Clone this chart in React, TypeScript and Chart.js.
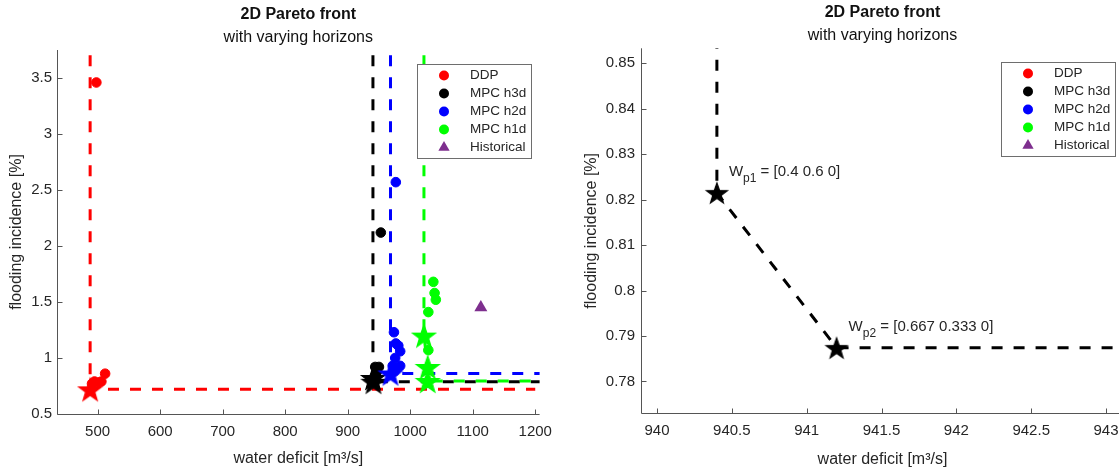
import React, { useEffect, useRef } from 'react';
import { Chart, registerables } from 'chart.js';

Chart.register(...registerables);

const FONT = "'Liberation Sans', Arial, Helvetica, sans-serif";
const TEXT = '#262626';
const AXIS = '#555555';

// ---------- data ----------
const seriesLabels = ['DDP', 'MPC h3d', 'MPC h2d', 'MPC h1d', 'Historical'];
const seriesColors = ['#ff0000', '#000000', '#0000ff', '#00ff00', '#7e2f8e'];

// solutions (dots)
const ddpX = [498, 512, 506, 501, 495, 491];
const ddpY = [3.46, 0.86, 0.79, 0.78, 0.79, 0.77];
const h3dX = [953, 944, 950, 947, 945];
const h3dY = [2.12, 0.92, 0.92, 0.88, 0.85];
const h2dX = [977, 974, 977, 981, 984, 976, 984, 972, 975];
const h2dY = [2.57, 1.23, 1.13, 1.11, 1.06, 1.0, 0.93, 0.93, 0.88];
const h1dX = [1037, 1039, 1041, 1029, 1029];
const h1dY = [1.68, 1.58, 1.52, 1.41, 1.07];
const histX = [1113];
const histY = [1.45];

// pareto-optimal (stars)
const ddpStarX = [488];
const ddpStarY = [0.72];
const h3dStarX = [940.4, 941.2];
const h3dStarY = [0.8215, 0.7874];
const h2dStarX = [968.5];
const h2dStarY = [0.862];
const h1dStarX = [1022, 1028, 1028];
const h1dStarY = [1.2, 0.92, 0.795];

// pareto front lines
const ddpFrontX = [488, 488, 1200];
const ddpFrontY = [3.9, 0.72, 0.72];
const h3dFrontX = [940.4, 940.4, 941.2, 1215];
const h3dFrontY = [3.9, 0.8215, 0.7874, 0.7874];
const h2dFrontX = [968.5, 968.5, 1215];
const h2dFrontY = [3.9, 0.862, 0.862];
const h1dFrontX = [1022, 1022, 1028, 1028, 1195];
const h1dFrontY = [3.9, 1.2, 0.92, 0.795, 0.795];

// weights annotations (for the h3d stars)
const weightSubs = ['p1', 'p2'];
const weightLabels = ['[0.4 0.6 0]', '[0.667 0.333 0]'];

// ticks
const xTicksWide = [500, 600, 700, 800, 900, 1000, 1100, 1200];
const yTicksWide = [0.5, 1, 1.5, 2, 2.5, 3, 3.5];
const xTicksZoom = [940, 940.5, 941, 941.5, 942, 942.5, 943];
const yTicksZoom = [0.78, 0.79, 0.8, 0.81, 0.82, 0.83, 0.84, 0.85];

// ---------- helpers ----------
const pts = (xs: number[], ys: number[]) => xs.map((x, i) => ({ x, y: ys[i] }));
const fmt = (v: number | string) => String(parseFloat(Number(v).toFixed(3)));

function makeStar(color: string, R: number): HTMLCanvasElement {
  const c = document.createElement('canvas');
  const size = Math.ceil(2 * R + 4);
  c.width = size;
  c.height = size;
  const ctx = c.getContext('2d')!;
  const cx = size / 2;
  const cy = size / 2 + R * 0.1;
  ctx.beginPath();
  for (let i = 0; i < 10; i++) {
    const r = i % 2 === 0 ? R : R * 0.4;
    const a = -Math.PI / 2 + (i * Math.PI) / 5;
    const x = cx + r * Math.cos(a);
    const y = cy + r * Math.sin(a);
    if (i === 0) ctx.moveTo(x, y);
    else ctx.lineTo(x, y);
  }
  ctx.closePath();
  ctx.fillStyle = color;
  ctx.fill();
  ctx.strokeStyle = color;
  ctx.lineWidth = 1.2;
  ctx.lineJoin = 'miter';
  ctx.stroke();
  return c;
}

function buildDatasets(starR: number) {
  const starSets = [pts(ddpStarX, ddpStarY), pts(h3dStarX, h3dStarY), pts(h2dStarX, h2dStarY), pts(h1dStarX, h1dStarY)];
  const dotSets = [pts(ddpX, ddpY), pts(h3dX, h3dY), pts(h2dX, h2dY), pts(h1dX, h1dY)];
  const frontSets = [pts(ddpFrontX, ddpFrontY), pts(h3dFrontX, h3dFrontY), pts(h2dFrontX, h2dFrontY), pts(h1dFrontX, h1dFrontY)];
  const ds: any[] = [];
  // stars on top (first dataset is drawn last)
  for (let i = 3; i >= 0; i--) {
    ds.push({
      label: seriesLabels[i] + ' optimum',
      data: starSets[i],
      showLine: false,
      pointStyle: makeStar(seriesColors[i], starR),
      pointRadius: starR,
      pointHoverRadius: starR,
    });
  }
  ds.push({
    label: seriesLabels[4],
    data: pts(histX, histY),
    showLine: false,
    pointStyle: 'triangle',
    pointRadius: 7.5,
    backgroundColor: seriesColors[4],
    borderColor: seriesColors[4],
    borderWidth: 0,
  });
  for (let i = 3; i >= 0; i--) {
    ds.push({
      label: seriesLabels[i],
      data: dotSets[i],
      showLine: false,
      pointStyle: 'circle',
      pointRadius: 4.8,
      backgroundColor: seriesColors[i],
      borderColor: seriesColors[i],
      borderWidth: 1,
    });
  }
  for (let i = 3; i >= 0; i--) {
    ds.push({
      label: seriesLabels[i] + ' front',
      data: frontSets[i],
      showLine: true,
      pointRadius: 0,
      borderColor: seriesColors[i],
      borderWidth: 3,
      borderDash: [11, 11],
      borderCapStyle: 'butt',
      fill: false,
      tension: 0,
    });
  }
  return ds;
}

// ---------- plugins ----------
const axisPlugin = {
  id: 'matlabAxes',
  beforeDatasetsDraw(chart: any) {
    const { ctx, chartArea: a, scales } = chart;
    const x = scales.x;
    const y = scales.y;
    ctx.save();
    ctx.strokeStyle = AXIS;
    ctx.lineWidth = 1;
    ctx.beginPath();
    const L = Math.round(a.left) + 0.5;
    const B = Math.round(a.bottom) + 0.5;
    ctx.moveTo(L, a.top);
    ctx.lineTo(L, B);
    ctx.lineTo(a.right, B);
    x.ticks.forEach((t: any) => {
      const px = Math.round(x.getPixelForValue(t.value)) + 0.5;
      ctx.moveTo(px, B);
      ctx.lineTo(px, B - 5);
    });
    y.ticks.forEach((t: any) => {
      const py = Math.round(y.getPixelForValue(t.value)) + 0.5;
      ctx.moveTo(L, py);
      ctx.lineTo(L + 5, py);
    });
    ctx.stroke();
    ctx.restore();
  },
};

const legendPlugin = {
  id: 'pfLegend',
  afterDatasetsDraw(chart: any, _args: any, opts: any) {
    const { ctx, chartArea: a } = chart;
    const w = 114;
    const h = 94;
    const x0 = Math.round(a.right - opts.marginRight - w);
    const y0 = Math.round(a.top + opts.marginTop);
    ctx.save();
    ctx.fillStyle = '#ffffff';
    ctx.fillRect(x0, y0, w, h);
    ctx.strokeStyle = '#6e6e6e';
    ctx.lineWidth = 1;
    ctx.strokeRect(x0 + 0.5, y0 + 0.5, w, h);
    seriesLabels.forEach((lab, i) => {
      const cy = y0 + 11.5 + i * 18;
      const mx = x0 + 27;
      ctx.fillStyle = seriesColors[i];
      ctx.beginPath();
      if (i === 4) {
        const r = 6.5;
        ctx.moveTo(mx, cy - r);
        ctx.lineTo(mx + r * 0.866, cy + r * 0.5);
        ctx.lineTo(mx - r * 0.866, cy + r * 0.5);
        ctx.closePath();
      } else {
        ctx.arc(mx, cy, 5, 0, Math.PI * 2);
      }
      ctx.fill();
      ctx.fillStyle = TEXT;
      ctx.font = `13.5px ${FONT}`;
      ctx.textBaseline = 'middle';
      ctx.textAlign = 'left';
      ctx.fillText(lab, x0 + 53, cy);
    });
    ctx.restore();
  },
};

const weightPlugin = {
  id: 'pfWeights',
  afterDatasetsDraw(chart: any, _args: any, opts: any) {
    if (!opts || !opts.show) return;
    const { ctx, scales } = chart;
    ctx.save();
    ctx.fillStyle = TEXT;
    ctx.textBaseline = 'middle';
    ctx.textAlign = 'left';
    h3dStarX.forEach((sx, i) => {
      const px = scales.x.getPixelForValue(sx) + 12;
      const py = scales.y.getPixelForValue(h3dStarY[i]) - 21;
      ctx.font = `15px ${FONT}`;
      ctx.fillText('W', px, py);
      const wW = ctx.measureText('W').width;
      ctx.font = `12px ${FONT}`;
      ctx.fillText(weightSubs[i], px + wW, py + 7);
      const wS = ctx.measureText(weightSubs[i]).width;
      ctx.font = `15px ${FONT}`;
      ctx.fillText(' = ' + weightLabels[i], px + wW + wS, py);
    });
    ctx.restore();
  },
};

// ---------- config ----------
interface Layout {
  xMin: number; xMax: number; yMin: number; yMax: number;
  xTicks: number[]; yTicks: number[];
  yAxisWidth: number; xAxisHeight: number; padRight: number;
  titleTop: number; titleBottom: number; subBottom: number;
  yTitlePad: number; xTitlePad: number; yTickPad: number; xTickPad: number;
  starR: number; weights: boolean;
}

function makeConfig(L: Layout): any {
  const tickFont = { family: FONT, size: 15 };
  const titleFont = { family: FONT, size: 16, lineHeight: 1.2 };
  return {
    type: 'scatter',
    data: { datasets: buildDatasets(L.starR) },
    options: {
      animation: false,
      responsive: false,
      devicePixelRatio: 1,
      events: [],
      layout: { padding: { top: 0, left: 0, bottom: 0, right: L.padRight } },
      plugins: {
        legend: { display: false },
        tooltip: { enabled: false },
        title: {
          display: true,
          text: '2D Pareto front',
          fullSize: false,
          color: '#111111',
          font: { family: FONT, size: 16, weight: 'bold', lineHeight: 1.2 },
          padding: { top: L.titleTop, bottom: L.titleBottom },
        },
        subtitle: {
          display: true,
          text: 'with varying horizons',
          fullSize: false,
          color: '#111111',
          font: { family: FONT, size: 16, weight: 'normal', lineHeight: 1.2 },
          padding: { top: 0, bottom: L.subBottom },
        },
        pfLegend: { marginRight: 9, marginTop: 14 },
        pfWeights: { show: L.weights },
      },
      scales: {
        x: {
          type: 'linear',
          min: L.xMin,
          max: L.xMax,
          grid: { display: false, drawTicks: false },
          border: { display: false },
          ticks: { font: tickFont, color: TEXT, padding: L.xTickPad, autoSkip: false, maxRotation: 0, callback: (v: any) => fmt(v) },
          title: { display: true, text: 'water deficit [m³/s]', font: titleFont, color: TEXT, padding: { top: 0, bottom: L.xTitlePad } },
          afterBuildTicks: (s: any) => { s.ticks = L.xTicks.map((v) => ({ value: v })); },
          afterFit: (s: any) => { s.height = L.xAxisHeight; s.paddingLeft = 0; s.paddingRight = 0; },
        },
        y: {
          type: 'linear',
          min: L.yMin,
          max: L.yMax,
          grid: { display: false, drawTicks: false },
          border: { display: false },
          ticks: { font: tickFont, color: TEXT, padding: L.yTickPad, autoSkip: false, callback: (v: any) => fmt(v) },
          title: { display: true, text: 'flooding incidence [%]', font: titleFont, color: TEXT, padding: { top: L.yTitlePad, bottom: 0 } },
          afterBuildTicks: (s: any) => { s.ticks = L.yTicks.map((v) => ({ value: v })); },
          afterFit: (s: any) => { s.width = L.yAxisWidth; s.paddingTop = 0; s.paddingBottom = 0; },
        },
      },
    },
    plugins: [axisPlugin, legendPlugin, weightPlugin],
  };
}

const leftLayout: Layout = {
  xMin: 435, xMax: 1207, yMin: 0.5, yMax: 3.75,
  xTicks: xTicksWide, yTicks: yTicksWide,
  yAxisWidth: 57, xAxisHeight: 57, padRight: 20.4,
  titleTop: 5.4, titleBottom: 3.6, subBottom: 2.6,
  yTitlePad: 7.4, xTitlePad: 2.4, yTickPad: 5, xTickPad: 8.7,
  starR: 12, weights: false,
};

const rightLayout: Layout = {
  xMin: 939.893, xMax: 943.12, yMin: 0.773, yMax: 0.8533,
  xTicks: xTicksZoom, yTicks: yTicksZoom,
  yAxisWidth: 81, xAxisHeight: 57.7, padRight: 36,
  titleTop: 3.4, titleBottom: 3.5, subBottom: 3,
  yTitlePad: 21.8, xTitlePad: 2.1, yTickPad: 6, xTickPad: 8.7,
  starR: 11, weights: true,
};

export default function App() {
  const leftRef = useRef<HTMLCanvasElement>(null);
  const rightRef = useRef<HTMLCanvasElement>(null);
  useEffect(() => {
    const c1 = new Chart(leftRef.current!, makeConfig(leftLayout));
    const c2 = new Chart(rightRef.current!, makeConfig(rightLayout));
    return () => {
      c1.destroy();
      c2.destroy();
    };
  }, []);
  return (
    <div style={{ position: 'fixed', left: 0, top: 0, width: 1119, height: 471, overflow: 'hidden', background: '#ffffff' }}>
      <canvas ref={leftRef} width={560} height={471} style={{ position: 'absolute', left: 0, top: 0, width: 560, height: 471 }} />
      <canvas ref={rightRef} width={600} height={471} style={{ position: 'absolute', left: 560, top: 0, width: 600, height: 471 }} />
    </div>
  );
}
